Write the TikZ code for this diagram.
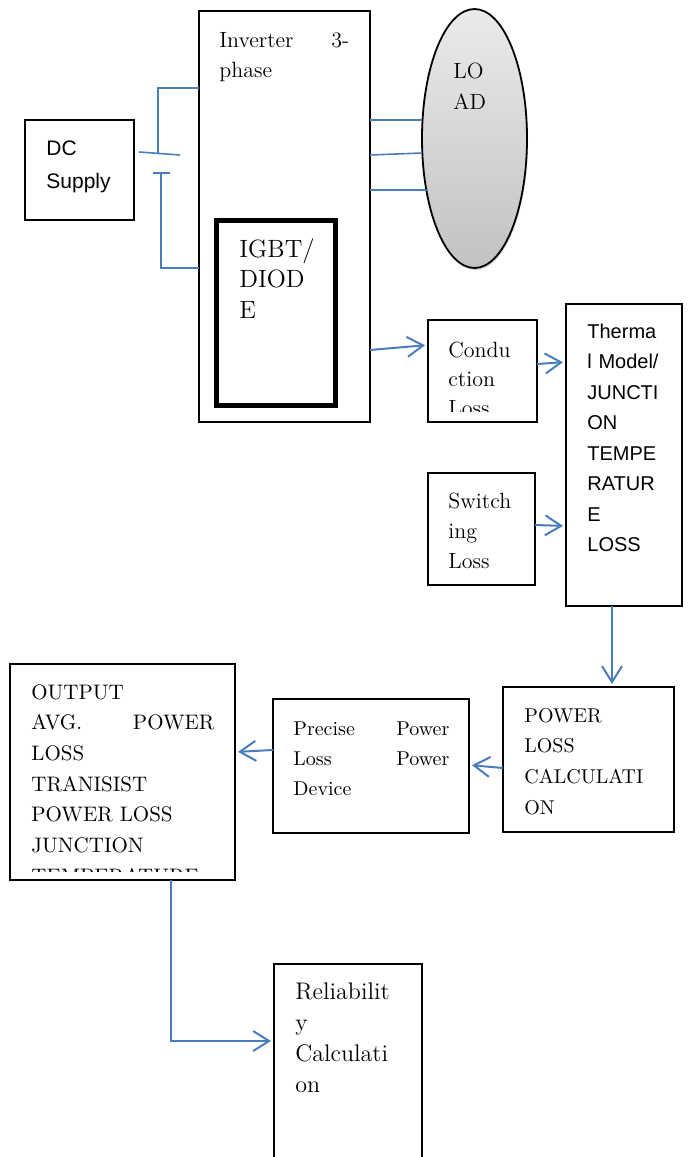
\documentclass[tikz,border=0pt]{standalone}
\usepackage{fontspec}
\newfontfamily\arialfont{Liberation Sans}
\usetikzlibrary{shapes.geometric}
\usetikzlibrary{arrows.meta}
\usetikzlibrary{shadows}
\definecolor{wireblue}{HTML}{4A7EBB}

\begin{document}
\begin{tikzpicture}[x=0.5pt,y=-0.5pt,
    box/.style={draw,line width=0.9pt,anchor=north west,inner sep=0pt,outer sep=0pt},
    txt/.style={anchor=base west,inner sep=0pt,align=left},
    wire/.style={draw=wireblue,line width=0.8pt},
    flow/.style={draw=wireblue,line width=1pt,shorten >=1.5pt,
        -{Straight Barb[length=8pt,width=10pt]}}]
    \useasboundingbox (0,0) rectangle (689,1157);
    \clip (0,0) rectangle (689,1157);
    % blocks
    \node[box,minimum width=54.5pt,minimum height=50pt] (dc) at (25,120) {};
    \node[box,minimum width=85.5pt,minimum height=205.5pt] (inv) at (199,11) {};
    \node[box,line width=2.5pt,minimum width=59.5pt,minimum height=92.5pt] (igbt) at (216.5,220.5) {};
    \node[ellipse,draw,line width=0.9pt,outer sep=0pt,top color=black!8,bottom color=black!24,
        drop shadow={shadow xshift=0.5pt,shadow yshift=-1pt,opacity=0.35},
        minimum width=52.5pt,minimum height=129.5pt] (load) at (474.5,138.5) {};
    \node[box,minimum width=54.5pt,minimum height=51pt] (cond) at (428,320) {};
    \node[box,minimum width=58pt,minimum height=151pt] (therm) at (566,304) {};
    \node[box,minimum width=53.5pt,minimum height=56pt] (sw) at (428,473) {};
    \node[box,minimum width=85.5pt,minimum height=72.5pt] (plc) at (503,687) {};
    \node[box,minimum width=98pt,minimum height=67pt] (prec) at (273,699) {};
    \node[box,minimum width=112.5pt,minimum height=108pt] (out) at (10,664) {};
    \node[box,minimum width=74pt,minimum height=125pt] (rel) at (274,964) {};
    % texts
    \node[txt,font=\arialfont\fontsize{10.5}{16.5}\selectfont,text width=45pt] (dctext) at (46,155) {DC\\Supply};
    \node[txt,font=\fontsize{11}{15}\selectfont,text width=65pt] (invtext) at (219,47) {Inverter\hfill 3-\\phase};
    \node[txt,font=\fontsize{12.5}{15.25}\selectfont,text width=50pt] (igbttext) at (239,257) {IGBT/\\DIOD\\E};
    \node[txt,font=\fontsize{11}{15.5}\selectfont,text width=40pt] (loadtext) at (453,78) {LO\\AD};
    \begin{scope}
        \clip (cond.north west) rectangle (537,411);
        \node[txt,font=\fontsize{11}{14.6}\selectfont,text width=45pt] (condtext) at (448,357) {Condu\\ction\\Loss};
    \end{scope}
    \node[txt,font=\arialfont\fontsize{10}{15.25}\selectfont,text width=50pt] (thermtext) at (587,338)
        {Therma\\l Model/\\JUNCTI\\ON\\TEMPE\\RATUR\\E\\LOSS};
    \node[txt,font=\fontsize{11}{15}\selectfont,text width=45pt] (swtext) at (448,508) {Switch\\ing\\Loss};
    \node[txt,font=\fontsize{10}{15.35}\selectfont,text width=70pt] (plctext) at (524,722) {POWER\\LOSS\\CALCULATI\\ON};
    \node[txt,font=\fontsize{10}{15}\selectfont,text width=78pt] (prectext) at (293,735)
        {Precise\hfill Power\\Loss\hfill Power\\Device};
    \begin{scope}
        \clip (out.north west) rectangle (235,871);
        \node[txt,font=\fontsize{10.5}{15.35}\selectfont,text width=91.5pt] (outtext) at (31,699)
            {OUTPUT\\AVG.\hfill POWER\\LOSS\\TRANISIST\\POWER LOSS\\JUNCTION\\TEMPERATURE};
    \end{scope}
    \node[txt,font=\fontsize{12}{15.5}\selectfont,text width=65pt] (reltext) at (295,999)
        {Reliabilit\\y\\Calculati\\on};
    % supply
    \coordinate (plus) at (158,154);
    \coordinate (minus) at (161,173);
    \draw[wire] (139,152) -- (180,155);
    \draw[wire] (153,173) -- (170,173);
    \draw[wire] (plus) |- (inv.west |- 0,88);
    \draw[wire] (minus) |- (inv.west |- 0,268);
    % three phases to the load
    \draw[wire] (inv.east |- 0,120) -- (load.west |- 0,120);
    \draw[wire] (inv.east |- 0,155) -- (load.west |- 0,153);
    \draw[wire] (inv.east |- 0,190) -- ([xshift=3pt]load.west |- 0,190);
    % flow
    \draw[flow] (inv.east |- 0,350) -- (cond.west |- 0,345);
    \draw[flow] (cond.east |- 0,364) -- (therm.west |- 0,362);
    \draw[flow] (sw.east |- 0,525) -- (therm.west |- 0,526);
    \draw[flow] (therm.south -| 612,0) -- (plc.north -| 612,0);
    \draw[flow] (plc.west |- 0,768) -- (prec.east |- 0,765);
    \draw[flow] (prec.west |- 0,750) -- (out.east |- 0,752);
    \draw[flow] (out.south -| 171,0) |- (rel.west |- 0,1041);
\end{tikzpicture}
\end{document}
